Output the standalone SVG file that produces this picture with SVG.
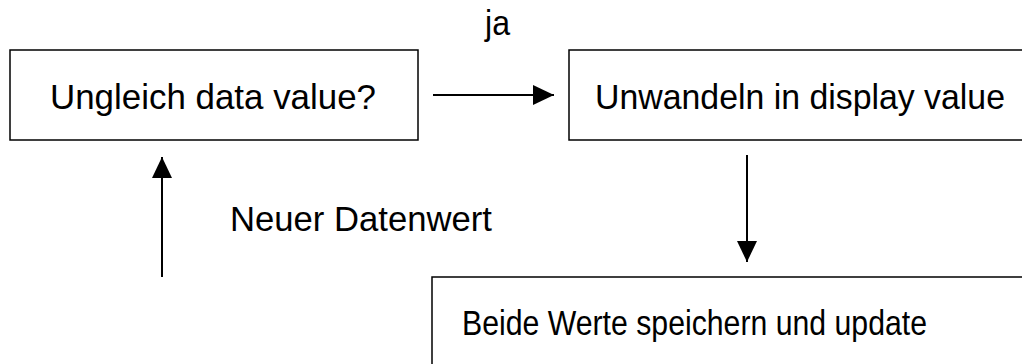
<svg xmlns="http://www.w3.org/2000/svg" width="1022" height="364" viewBox="0 0 1022 364">
<style>
.box{fill:#fff;stroke:#000;stroke-width:1.5}
.t{font-family:"Liberation Sans",Arial,sans-serif;font-size:35px;fill:#000}
.c{stroke:#000;stroke-width:2;fill:none}
</style>
<defs>
<marker id="ah" markerWidth="22" markerHeight="20" refX="21" refY="10" orient="auto" markerUnits="userSpaceOnUse">
<path d="M0,0 L21,10 L0,20 Z" fill="#000"/>
</marker>
</defs>
<rect width="1022" height="364" fill="#fff"/>
<g id="node-ungleich">
<rect class="box" x="10" y="50" width="408" height="90"/>
<text class="t" x="50" y="109" textLength="326" lengthAdjust="spacingAndGlyphs">Ungleich data value?</text>
</g>
<g id="node-unwandeln">
<rect class="box" x="569" y="50" width="470" height="90"/>
<text class="t" x="595" y="109" textLength="410" lengthAdjust="spacingAndGlyphs">Unwandeln in display value</text>
</g>
<g id="node-beide">
<rect class="box" x="432" y="277" width="620" height="100"/>
<text class="t" x="462" y="335" textLength="465" lengthAdjust="spacingAndGlyphs">Beide Werte speichern und update</text>
</g>
<g id="connectors">
<line class="c" x1="433" y1="95" x2="554" y2="95" marker-end="url(#ah)"/>
<line class="c" x1="747" y1="155" x2="747" y2="262" marker-end="url(#ah)"/>
<line class="c" x1="162" y1="277" x2="162" y2="157" marker-end="url(#ah)"/>
<text class="t" x="485" y="35" textLength="25" lengthAdjust="spacingAndGlyphs">ja</text>
<text class="t" x="230" y="231" textLength="262" lengthAdjust="spacingAndGlyphs">Neuer Datenwert</text>
</g>
</svg>
